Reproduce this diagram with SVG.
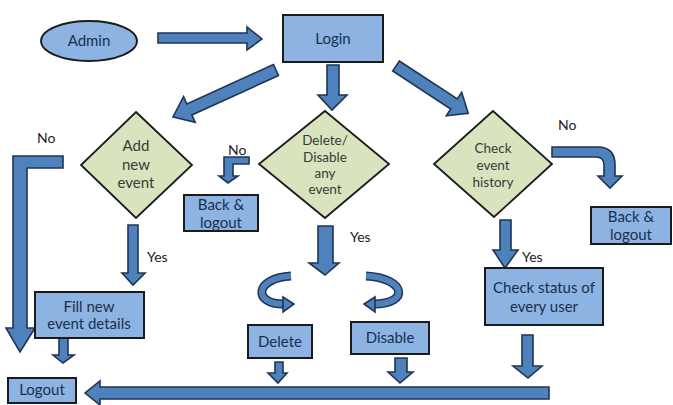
<svg xmlns="http://www.w3.org/2000/svg" width="673" height="405" viewBox="0 0 673 405">
<style>
.box{fill:#8db3e2;stroke:#1b1b1b;stroke-width:2}
.dia{fill:#d7e4bd;stroke:#1b1b1b;stroke-width:1.8}
.arr{fill:#4f81bd;stroke:#1f3553;stroke-width:1.6;stroke-linejoin:miter}
.t{font-family:Lato,"Liberation Sans",sans-serif;font-size:15px;fill:#17304f;text-anchor:middle}
.d{font-family:Lato,"Liberation Sans",sans-serif;font-size:13.5px;fill:#3a3a3a;text-anchor:middle}
.l{font-family:Lato,"Liberation Sans",sans-serif;font-size:14px;fill:#222}
.cv1{fill:none;stroke:#1f3553;stroke-width:9}
.cv2{fill:none;stroke:#4f81bd;stroke-width:6}
</style>
<rect width="673" height="405" fill="#fff"/>
<g id="connectors">
<polygon class="arr" points="158,33 247,33 247,27 262,39 247,50 247,43 158,43"/>
<polygon class="arr" points="273.5,64.5 186.9,104 183.6,96.7 173,117 195.2,122.3 191.9,115 278.5,75.5"/>
<polygon class="arr" points="327,65 339,65 339,95 347,95 332,110 318,95 327,95"/>
<polygon class="arr" points="399.3,61 457.3,99 461.7,92.3 468.2,113.3 446.3,115.7 450.7,109 392.7,71"/>
<polygon class="arr" points="13,156 63,156 63,168 27,168 27,328 35,328 20,352 6,328 13,328"/>
<polygon class="arr" points="224,157 249,157 249,164 233,164 233,176 238,176 228,183 219,176 224,176"/>
<polygon class="arr" points="128,225 138,225 138,273 145,273 133,285 122,273 128,273"/>
<polygon class="arr" points="318,226 333,226 333,263 339,263 325,275 309,263 318,263"/>
<polygon class="arr" points="500,220 511,220 511,250 518,250 505,268 493,250 500,250"/>
<path class="arr" d="M552,147 L598,147 Q615,147 615,165 L615,176 L622,176 L610,188 L598,176 L604,176 L604,165 Q604,157 596,157 L552,157 Z"/>
<path class="cv1" d="M291,276 C255,278 252,304 284,304"/>
<path class="cv2" d="M291,276 C255,278 252,304 284,304"/>
<polygon class="arr" points="283,297 294,304 283,312"/>
<path class="cv1" d="M366,276 C406,278 410,304 374,304"/>
<path class="cv2" d="M366,276 C406,278 410,304 374,304"/>
<polygon class="arr" points="375,297 364,304 375,312"/>
<polygon class="arr" points="59,338 68,338 68,355 74,355 63,363 53,355 59,355"/>
<polygon class="arr" points="275,362 283,362 283,373 287,373 278,383 268,373 275,373"/>
<polygon class="arr" points="395,358 407,358 407,372 413,372 400,383 388,372 395,372"/>
<polygon class="arr" points="522,335 533,335 533,366 542,366 528,378 513,366 522,366"/>
<polygon class="arr" points="549,387 549,399 100,399 100,405 85,393 100,381 100,387"/>
<text class="l" x="37" y="143">No</text>
<text class="l" x="228" y="155">No</text>
<text class="l" x="147" y="262">Yes</text>
<text class="l" x="350" y="242">Yes</text>
<text class="l" x="522" y="262">Yes</text>
<text class="l" x="558" y="130">No</text>
</g>
<g id="admin">
<ellipse cx="89" cy="41" rx="48" ry="20" fill="#8db3e2" stroke="#1b1b1b" stroke-width="1.8"/>
<text class="t" x="89" y="46">Admin</text>
</g>
<g id="login">
<rect class="box" x="283" y="15" width="100" height="47"/>
<text class="t" x="333" y="44">Login</text>
</g>
<g id="add-new-event">
<polygon class="dia" points="136,112 192,165 136,218 81,165"/>
<text class="t" x="136" y="151" style="fill:#3a3a3a">Add</text>
<text class="t" x="136" y="170" style="fill:#3a3a3a">new</text>
<text class="t" x="136" y="188" style="fill:#3a3a3a">event</text>
</g>
<g id="delete-disable">
<polygon class="dia" points="325,111 389,164 325,218 259,164"/>
<text class="d" x="325" y="145">Delete/</text>
<text class="d" x="325" y="162">Disable</text>
<text class="d" x="325" y="178">any</text>
<text class="d" x="325" y="194">event</text>
</g>
<g id="check-history">
<polygon class="dia" points="493,111 552,164 494,217 434,164"/>
<text class="d" x="493" y="153">Check</text>
<text class="d" x="493" y="170">event</text>
<text class="d" x="493" y="187">history</text>
</g>
<g id="back-logout-1">
<rect class="box" x="184" y="195" width="74" height="36"/>
<text class="t" x="221" y="210">Back &amp;</text>
<text class="t" x="221" y="228">logout</text>
</g>
<g id="back-logout-2">
<rect class="box" x="591" y="207" width="80" height="37"/>
<text class="t" x="631" y="222">Back &amp;</text>
<text class="t" x="631" y="240">logout</text>
</g>
<g id="fill-details">
<rect class="box" x="35" y="292" width="109" height="46"/>
<text class="t" x="89" y="312">Fill new</text>
<text class="t" x="89" y="329">event details</text>
</g>
<g id="delete">
<rect class="box" x="248" y="325" width="64" height="33"/>
<text class="t" x="280" y="347">Delete</text>
</g>
<g id="disable">
<rect class="box" x="351" y="322" width="78" height="32"/>
<text class="t" x="390" y="343">Disable</text>
</g>
<g id="check-status">
<rect class="box" x="485" y="268" width="118" height="57"/>
<text class="t" x="544" y="293">Check status of</text>
<text class="t" x="544" y="312">every user</text>
</g>
<g id="logout">
<rect class="box" x="8" y="378" width="68" height="25"/>
<text class="t" x="42" y="395">Logout</text>
</g>
</svg>
